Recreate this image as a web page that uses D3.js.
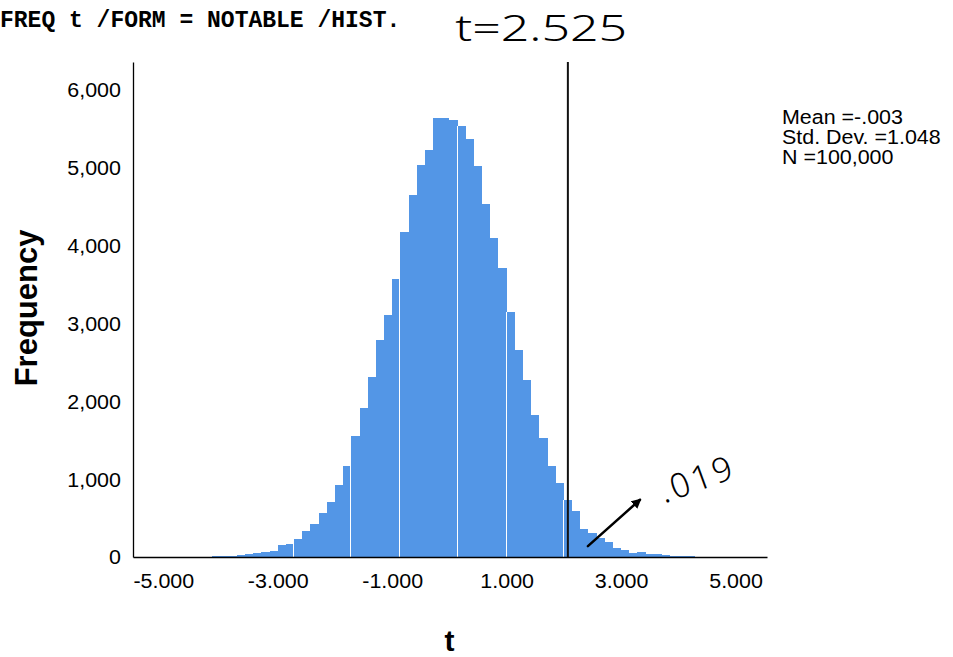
<!DOCTYPE html>
<html>
<head>
<meta charset="utf-8">
<script src="https://cdn.jsdelivr.net/npm/d3@7"></script>
<style>
  body { margin: 0; background: #fff; }
  svg { display: block; }
</style>
</head>
<body>
<div id="chart"></div>
<script>
// histogram of t: bins of width 1/7, first bin starts at -38/7
const binStart = -5.4286;
const binWidth = 0.142857;
const counts = [
  0, 0, 1, 1, 3, 3, 4, 5, 6, 7, 8, 9, 21, 34, 47, 60, 73, 150, 163, 227,
  334, 420, 561, 702, 921, 1165, 1555, 1915, 2313, 2788, 3110, 3572, 4176, 4652, 5037, 5230, 5641, 5641,
  5615, 5538, 5371, 5024, 4536, 4099, 3714, 3148, 2660, 2275, 1825, 1529, 1169, 951, 732, 591,
  360, 308, 244, 193, 116, 90, 51, 64, 39, 39, 26, 13, 13, 8, 6, 5, 4, 3, 3, 2, 1, 1
];
const yTicks = [0, 1000, 2000, 3000, 4000, 5000, 6000];
const xTicks = [-5, -3, -1, 1, 3, 5];
const statLines = ["Mean =-.003", "Std. Dev. =1.048", "N =100,000"];
const syntax = "FREQ t /FORM = NOTABLE /HIST.";
const cutoff = 2.07;          // drawn vertical line
const tNote = "t=2.525";
const pNote = ".019";
const arrowFrom = [2.42, 140], arrowTo = [3.33, 735];
const pNoteAt = [4.4, 860], tNoteAt = [0.1, 6630];
// bin edges (in units of binWidth) where the original render left thin white seams
const seamEdges = [-19, -12, -6, 1, 7, 14];

const W = 953, H = 657;
const barColor = "#5396e6";
const sx = 1.1; // the source picture is a bit stretched horizontally
const locale = d3.formatLocale({decimal: ".", thousands: ",", grouping: [3], currency: ["", ""], minus: "-"});

const svg = d3.select("#chart").append("svg")
  .attr("width", W)
  .attr("height", H);

const x = d3.scaleLinear().domain([-5.53, 5.55]).range([133, 767]);
const y = d3.scaleLinear().domain([0, 6360]).range([557, 62]);

let bins = counts.map(function(c, i) {
  return {x0: binStart + i * binWidth, x1: binStart + (i + 1) * binWidth, n: c};
});

svg.append("g")
  .selectAll("rect")
  .data(bins.filter(function(d) { return d.n > 0; }))
  .enter().append("rect")
  .attr("x", function(d) { return x(d.x0); })
  .attr("width", function(d) { return x(d.x1) - x(d.x0); })
  .attr("y", function(d) { return y(d.n); })
  .attr("height", function(d) { return y(0) - y(d.n); })
  .attr("fill", barColor)
  .attr("shape-rendering", "crispEdges");

// white seams between some bars
let zeroIdx = Math.round(-binStart / binWidth);
svg.append("g")
  .selectAll("rect")
  .data(seamEdges)
  .enter().append("rect")
  .attr("x", function(k) { return Math.round(x(k * binWidth)) - 1; })
  .attr("width", 1)
  .attr("y", function(k) { return y(Math.min(counts[zeroIdx + k - 1], counts[zeroIdx + k])); })
  .attr("height", function(k) { return y(0) - y(Math.min(counts[zeroIdx + k - 1], counts[zeroIdx + k])); })
  .attr("fill", "#fff")
  .attr("shape-rendering", "crispEdges");

// axes
let yAxis = svg.append("g")
  .attr("transform", "translate(" + x.range()[0] + ",0)")
  .call(d3.axisLeft(y).tickValues(yTicks).tickSize(0).tickSizeOuter(0).tickPadding(11)
    .tickFormat(locale.format(",")));
yAxis.selectAll("text")
  .attr("font-family", "'Liberation Sans', Arial, sans-serif")
  .attr("font-size", 19.5)
  .attr("fill", "#000")
  .attr("dy", "0.35em")
  .attr("transform", "scale(" + sx + ",1)");

let xAxis = svg.append("g")
  .attr("transform", "translate(0," + y(0) + ")")
  .call(d3.axisBottom(x).tickValues(xTicks).tickSize(0).tickSizeOuter(0).tickPadding(17)
    .tickFormat(locale.format(".3f")));
xAxis.selectAll("text")
  .attr("font-family", "'Liberation Sans', Arial, sans-serif")
  .attr("font-size", 19.5)
  .attr("fill", "#000")
  .attr("transform", "scale(" + sx + ",1)");

svg.selectAll(".domain")
  .attr("stroke", "#000")
  .attr("stroke-width", 1.3);

// cutoff line
svg.append("line")
  .attr("x1", x(cutoff)).attr("x2", x(cutoff))
  .attr("y1", y(0)).attr("y2", y.range()[1])
  .attr("stroke", "#111")
  .attr("stroke-width", 2);

// axis titles
svg.append("text")
  .attr("transform", "translate(" + x(0) + ",651)")
  .attr("text-anchor", "middle")
  .attr("font-family", "'Liberation Sans', Arial, sans-serif")
  .attr("font-weight", "bold")
  .attr("font-size", 30)
  .text("t");

svg.append("text")
  .attr("transform", "translate(37," + y(3200) + ") rotate(-90)")
  .attr("text-anchor", "middle")
  .attr("font-family", "'Liberation Sans', Arial, sans-serif")
  .attr("font-weight", "bold")
  .attr("font-size", 31)
  .text("Frequency");

// stats box
svg.append("g")
  .selectAll("text")
  .data(statLines)
  .enter().append("text")
  .attr("transform", function(d, i) { return "translate(782," + (124 + i * 20) + ") scale(" + sx + ",1)"; })
  .attr("font-family", "'Liberation Sans', Arial, sans-serif")
  .attr("font-size", 19.5)
  .text(function(d) { return d; });

// syntax line
svg.append("text")
  .attr("x", 0).attr("y", 27)
  .attr("font-family", "'Liberation Mono', 'Courier New', monospace")
  .attr("font-weight", "bold")
  .attr("font-size", 23)
  .text(syntax);

// hand annotations
svg.append("defs").append("marker")
  .attr("id", "head")
  .attr("viewBox", "0 0 10 10")
  .attr("refX", 8).attr("refY", 5)
  .attr("markerWidth", 4).attr("markerHeight", 4)
  .attr("orient", "auto")
  .append("path")
  .attr("d", "M0,0L10,5L0,10z")
  .attr("fill", "#000");

svg.append("line")
  .attr("x1", x(arrowFrom[0])).attr("y1", y(arrowFrom[1]))
  .attr("x2", x(arrowTo[0])).attr("y2", y(arrowTo[1]))
  .attr("stroke", "#000")
  .attr("stroke-width", 2.5)
  .attr("stroke-linecap", "round")
  .attr("marker-end", "url(#head)");

svg.append("text")
  .attr("transform", "translate(" + x(pNoteAt[0]) + "," + y(pNoteAt[1]) + ") rotate(-20)")
  .attr("text-anchor", "middle")
  .attr("font-family", "'Noto Sans', sans-serif")
  .attr("font-weight", 300)
  .attr("font-size", 34)
  .attr("letter-spacing", 3)
  .text(pNote);

svg.append("text")
  .attr("x", x(tNoteAt[0])).attr("y", y(tNoteAt[1]))
  .attr("font-family", "'Noto Sans', sans-serif")
  .attr("font-weight", 300)
  .attr("font-size", 36)
  .attr("textLength", 172)
  .attr("lengthAdjust", "spacingAndGlyphs")
  .text(tNote);
</script>
</body>
</html>
